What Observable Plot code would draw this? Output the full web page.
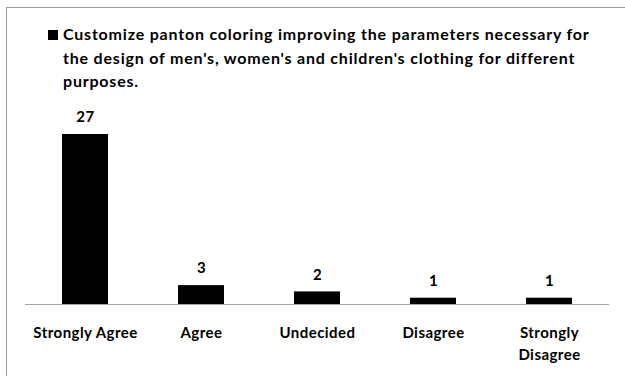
<!DOCTYPE html>
<html>
<head>
<meta charset="utf-8">
<script src="https://cdn.jsdelivr.net/npm/d3@7"></script>
<script src="https://cdn.jsdelivr.net/npm/@observablehq/plot@0.6"></script>
<style>
  html, body { margin: 0; padding: 0; background: #fff; }
  #frame {
    position: relative; width: 625px; height: 376px; overflow: hidden;
    font-family: Lato, "Open Sans", sans-serif; color: #000;
  }
  #border {
    position: absolute; left: 6px; top: 7px; right: -2px; bottom: -2px;
    border-top: 1px solid #9a9a9a; border-left: 1px solid #9a9a9a;
  }
  #title {
    position: absolute; left: 48px; top: 22px; height: 78px;
    font-size: 16px; font-weight: 700; line-height: 23.5px; white-space: nowrap;
    letter-spacing: 0.8px;
  }
  #title .key {
    display: inline-block; width: 10px; height: 10px; background: #000;
    margin-right: 5px; vertical-align: 0px;
  }
  #title .line { padding-left: 15px; }
  #title .line.first { padding-left: 0; }
  #chart { position: absolute; left: 0; top: 100px; }
  #chart svg text { letter-spacing: 0.45px; }
</style>
</head>
<body>
<div id="frame">
  <div id="border"></div>
  <div id="title"></div>
  <div id="chart"></div>
</div>
<script>
// Survey responses for the statement in the title
const categories = ["Strongly Agree", "Agree", "Undecided", "Disagree", "Strongly Disagree"];
const counts = [27, 3, 2, 1, 1];
const tickLabels = ["Strongly Agree", "Agree", "Undecided", "Disagree", "Strongly\nDisagree"];
const titleLines = [
  "Customize panton coloring improving the parameters necessary for",
  "the design of men's, women's and children's clothing for different",
  "purposes."
];

const rows = categories.map((c, i) => ({category: c, count: counts[i]}));

// Title with a legend key in front of the first line
const title = document.getElementById("title");
titleLines.forEach((t, i) => {
  const div = document.createElement("div");
  div.className = "line" + (i === 0 ? " first" : "");
  if (i === 0) {
    const key = document.createElement("span");
    key.className = "key";
    div.appendChild(key);
  }
  div.appendChild(document.createTextNode(t));
  title.appendChild(div);
});

const chart = Plot.plot({
  width: 625,
  height: 276,
  marginLeft: 25,
  marginRight: 16,
  marginTop: 34,
  marginBottom: 72,
  style: {fontFamily: "Lato, 'Open Sans', sans-serif", color: "#000", background: "transparent"},
  x: {domain: categories, paddingInner: 0.6, paddingOuter: 0.3, label: null},
  y: {domain: [0, 27], axis: null},
  marks: [
    Plot.barY(rows, {x: "category", y: "count", fill: "#000"}),
    Plot.ruleY([0], {stroke: "#a6a6a6", strokeWidth: 1}),
    Plot.text(rows, {x: "category", y: "count", text: d => String(d.count), dy: -17,
      fontSize: 15, fontWeight: 700, fill: "#000"}),
    Plot.axisX({
      tickSize: 0, tickPadding: 18, fontSize: 15, fontWeight: 700, lineHeight: 1.45,
      tickFormat: d => tickLabels[categories.indexOf(d)], label: null
    })
  ]
});
document.getElementById("chart").appendChild(chart);
</script>
</body>
</html>
